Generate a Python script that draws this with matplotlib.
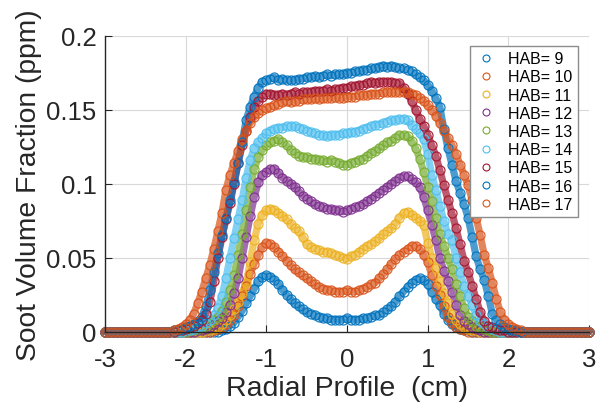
# soot_radial_profiles.py
# Soot volume fraction vs radial position for several heights above burner (HAB)

import numpy as np
import matplotlib.pyplot as plt
from matplotlib.lines import Line2D

# radial positions (cm), 0.05 cm step over the whole window
X_CM = np.round(np.arange(-3.0, 3.0001, 0.05), 2)

# values, in 1e-3 ppm, for x = -2.20 ... 2.20 (0.05 step)
# outside |x| > 2.2 every profile sits on zero
EDGE_ZEROS = [0] * 16

HAB_9 = [0, 0, 0, 0, 0, 0, 0, 0, 0, 0,
         0, 0, 0, 1, 2, 4, 6, 10, 14, 19,
         24, 29, 34, 37, 38, 37, 35, 32, 28, 25,
         22, 19, 17, 15, 13, 12, 11, 10, 9, 9,
         8, 8, 8, 8, 9, 8, 8, 8, 9, 9,
         10, 11, 11, 13, 15, 17, 20, 24, 27, 30,
         33, 35, 36, 35, 32, 27, 22, 18, 12, 8,
         5, 3, 2, 1, 1, 0, 0, 0, 0, 0,
         0, 0, 0, 0, 0, 0, 0, 0, 0]
HAB_10 = [0, 0, 0, 0, 0, 0, 0, 0, 0, 0,
          0, 1, 2, 3, 5, 8, 11, 17, 24, 31,
          39, 46, 52, 57, 60, 59, 57, 54, 51, 48,
          45, 42, 40, 38, 36, 34, 32, 30, 29, 28,
          28, 27, 27, 27, 28, 27, 27, 28, 29, 30,
          32, 33, 36, 39, 42, 46, 49, 52, 54, 56,
          58, 58, 56, 52, 47, 38, 31, 25, 17, 10,
          6, 3, 2, 1, 0, 0, 0, 0, 0, 0,
          0, 0, 0, 0, 0, 0, 0, 0, 0]
HAB_11 = [0, 0, 0, 0, 0, 0, 0, 0, 0, 1,
          1, 2, 3, 5, 8, 11, 15, 20, 26, 33,
          47, 62, 73, 79, 82, 83, 82, 80, 78, 76,
          73, 70, 68, 64, 59, 57, 56, 55, 54, 54,
          53, 52, 51, 50, 49, 51, 52, 54, 56, 58,
          59, 61, 63, 66, 68, 70, 73, 77, 80, 81,
          79, 77, 75, 72, 60, 50, 43, 34, 26, 19,
          12, 8, 5, 3, 2, 1, 1, 0, 0, 0,
          0, 0, 0, 0, 0, 0, 0, 0, 0]
HAB_12 = [0, 0, 0, 0, 0, 0, 0, 1, 1, 2,
          3, 5, 7, 9, 13, 18, 26, 36, 50, 64,
          78, 91, 101, 106, 108, 110, 110, 107, 104, 102,
          100, 98, 95, 92, 90, 88, 86, 85, 84, 83,
          83, 82, 82, 81, 82, 83, 84, 85, 86, 88,
          90, 92, 94, 96, 98, 100, 102, 104, 105, 105,
          103, 101, 98, 91, 82, 72, 62, 50, 41, 34,
          27, 18, 11, 7, 5, 3, 2, 1, 0, 0,
          0, 0, 0, 0, 0, 0, 0, 0, 0]
HAB_13 = [0, 0, 0, 0, 0, 1, 1, 2, 3, 4,
          6, 8, 10, 14, 20, 28, 38, 52, 66, 82,
          98, 110, 118, 123, 126, 128, 129, 130, 128, 126,
          123, 121, 119, 118, 118, 117, 117, 116, 116, 115,
          116, 115, 114, 113, 113, 114, 115, 116, 117, 119,
          121, 122, 124, 126, 128, 129, 131, 133, 133, 132,
          129, 124, 117, 108, 98, 88, 77, 66, 58, 50,
          42, 32, 24, 16, 10, 7, 4, 3, 2, 1,
          0, 0, 0, 0, 0, 0, 0, 0, 0]
HAB_14 = [0, 0, 0, 0, 1, 1, 2, 3, 4, 6,
          8, 11, 16, 24, 36, 50, 63, 76, 89, 104,
          116, 124, 128, 131, 134, 136, 137, 138, 138, 139,
          139, 139, 138, 137, 136, 135, 134, 133, 133, 132,
          133, 133, 133, 134, 134, 135, 135, 136, 137, 138,
          139, 140, 140, 141, 142, 143, 143, 144, 144, 143,
          140, 137, 134, 130, 120, 106, 96, 85, 75, 66,
          62, 50, 40, 31, 24, 18, 11, 7, 5, 3,
          2, 1, 0, 0, 0, 0, 0, 0, 0]
HAB_15 = [0, 0, 1, 1, 2, 3, 4, 6, 8, 12,
          20, 34, 50, 64, 76, 87, 100, 114, 126, 136,
          145, 152, 156, 159, 161, 161, 160, 160, 161, 160,
          161, 162, 161, 162, 162, 162, 163, 163, 163, 164,
          163, 164, 164, 165, 165, 166, 166, 167, 167, 168,
          169, 168, 169, 169, 169, 169, 168, 168, 165, 161,
          156, 150, 144, 139, 133, 126, 119, 109, 99, 89,
          80, 70, 59, 48, 40, 31, 22, 13, 7, 4,
          3, 2, 1, 1, 0, 0, 0, 0, 0]
HAB_16 = [0, 1, 1, 2, 3, 4, 5, 7, 10, 17,
          28, 40, 53, 65, 77, 89, 101, 114, 128, 143,
          152, 159, 165, 169, 170, 171, 172, 170, 171, 170,
          170, 170, 171, 171, 172, 172, 173, 172, 173, 174,
          173, 174, 174, 174, 175, 175, 176, 176, 177, 177,
          178, 178, 179, 180, 179, 180, 179, 178, 178, 177,
          176, 174, 172, 170, 167, 163, 158, 152, 137, 124,
          113, 102, 94, 86, 77, 64, 51, 42, 35, 24,
          12, 8, 5, 3, 2, 1, 1, 0, 0]
HAB_17 = [0, 1, 2, 3, 5, 8, 12, 19, 27, 36,
          45, 56, 68, 80, 96, 106, 114, 122, 130, 136,
          141, 145, 148, 150, 151, 152, 153, 154, 155, 156,
          155, 156, 156, 157, 157, 157, 158, 157, 158, 158,
          158, 159, 158, 158, 159, 159, 159, 160, 160, 160,
          161, 161, 161, 162, 162, 162, 162, 162, 162, 162,
          161, 160, 158, 156, 153, 150, 146, 141, 136, 131,
          126, 120, 113, 106, 99, 89, 77, 65, 52, 43,
          33, 22, 13, 8, 5, 3, 2, 1, 0]

SERIES = [("HAB= 9", HAB_9), ("HAB= 10", HAB_10), ("HAB= 11", HAB_11),
          ("HAB= 12", HAB_12), ("HAB= 13", HAB_13), ("HAB= 14", HAB_14),
          ("HAB= 15", HAB_15), ("HAB= 16", HAB_16), ("HAB= 17", HAB_17)]

# matlab default colour order (wraps after 7)
COLORS = ["#0072BD", "#D95319", "#EDB120", "#7E2F8E", "#77AC30",
          "#4DBEEE", "#A2142F", "#0072BD", "#D95319"]

plt.rcParams["font.family"] = ["Liberation Sans", "DejaVu Sans"]
plt.rcParams["axes.unicode_minus"] = False

fig = plt.figure(figsize=(6.03, 4.06), dpi=100)
ax = fig.add_axes([0.174, 0.181, 0.803, 0.728])

handles = []
for (label, vals), col in zip(SERIES, COLORS):
    y = np.array(EDGE_ZEROS + vals + EDGE_ZEROS) / 1000.0
    # dense open circles in the original merge into a thick band
    ax.plot(X_CM, y, "-", color=col, lw=5.2, alpha=0.7, clip_on=False,
            solid_capstyle="round", solid_joinstyle="round", zorder=2)
    ax.plot(X_CM, y, "o", color=col, mfc="none", ms=6.5, mew=0.9,
            alpha=0.9, clip_on=False, zorder=3)
    handles.append(Line2D([], [], ls="none", marker="o", color=col,
                          mfc="none", ms=5, mew=0.8, label=label))

ax.set_xlim(-3, 3)
ax.set_ylim(0, 0.2)
ax.set_xticks([-3, -2, -1, 0, 1, 2, 3])
ax.set_yticks([0, 0.05, 0.1, 0.15, 0.2])
ax.set_yticklabels(["0", "0.05", "0.1", "0.15", "0.2"])
ax.grid(True, color="#d9d9d9", lw=0.8)
ax.set_axisbelow(True)
for s in ["top", "right"]:
    ax.spines[s].set_visible(False)
for s in ["left", "bottom"]:
    ax.spines[s].set_color("#262626")
    ax.spines[s].set_linewidth(1.0)
    ax.spines[s].set_zorder(4)
ax.tick_params(direction="in", length=5, width=0.8, colors="#262626",
               labelsize=18.5)
ax.tick_params(axis="x", pad=11)
ax.tick_params(axis="y", pad=6)

ax.set_xlabel("Radial Profile  (cm)", fontsize=20.5, color="#262626", labelpad=3)
ax.set_ylabel("Soot Volume Fraction (ppm)", fontsize=20.3, color="#262626",
              labelpad=3)

leg = ax.legend(handles=handles, loc="upper right", bbox_to_anchor=(0.977, 0.967),
                fontsize=11.5, frameon=True, fancybox=False, framealpha=1,
                handlelength=1.2, handletextpad=0.8, borderpad=0.35,
                labelspacing=0.2, borderaxespad=0)
leg.get_frame().set_edgecolor("#8c8c8c")
leg.get_frame().set_linewidth(1.0)
leg.set_zorder(5)

fig.savefig("out.png", dpi=100)
